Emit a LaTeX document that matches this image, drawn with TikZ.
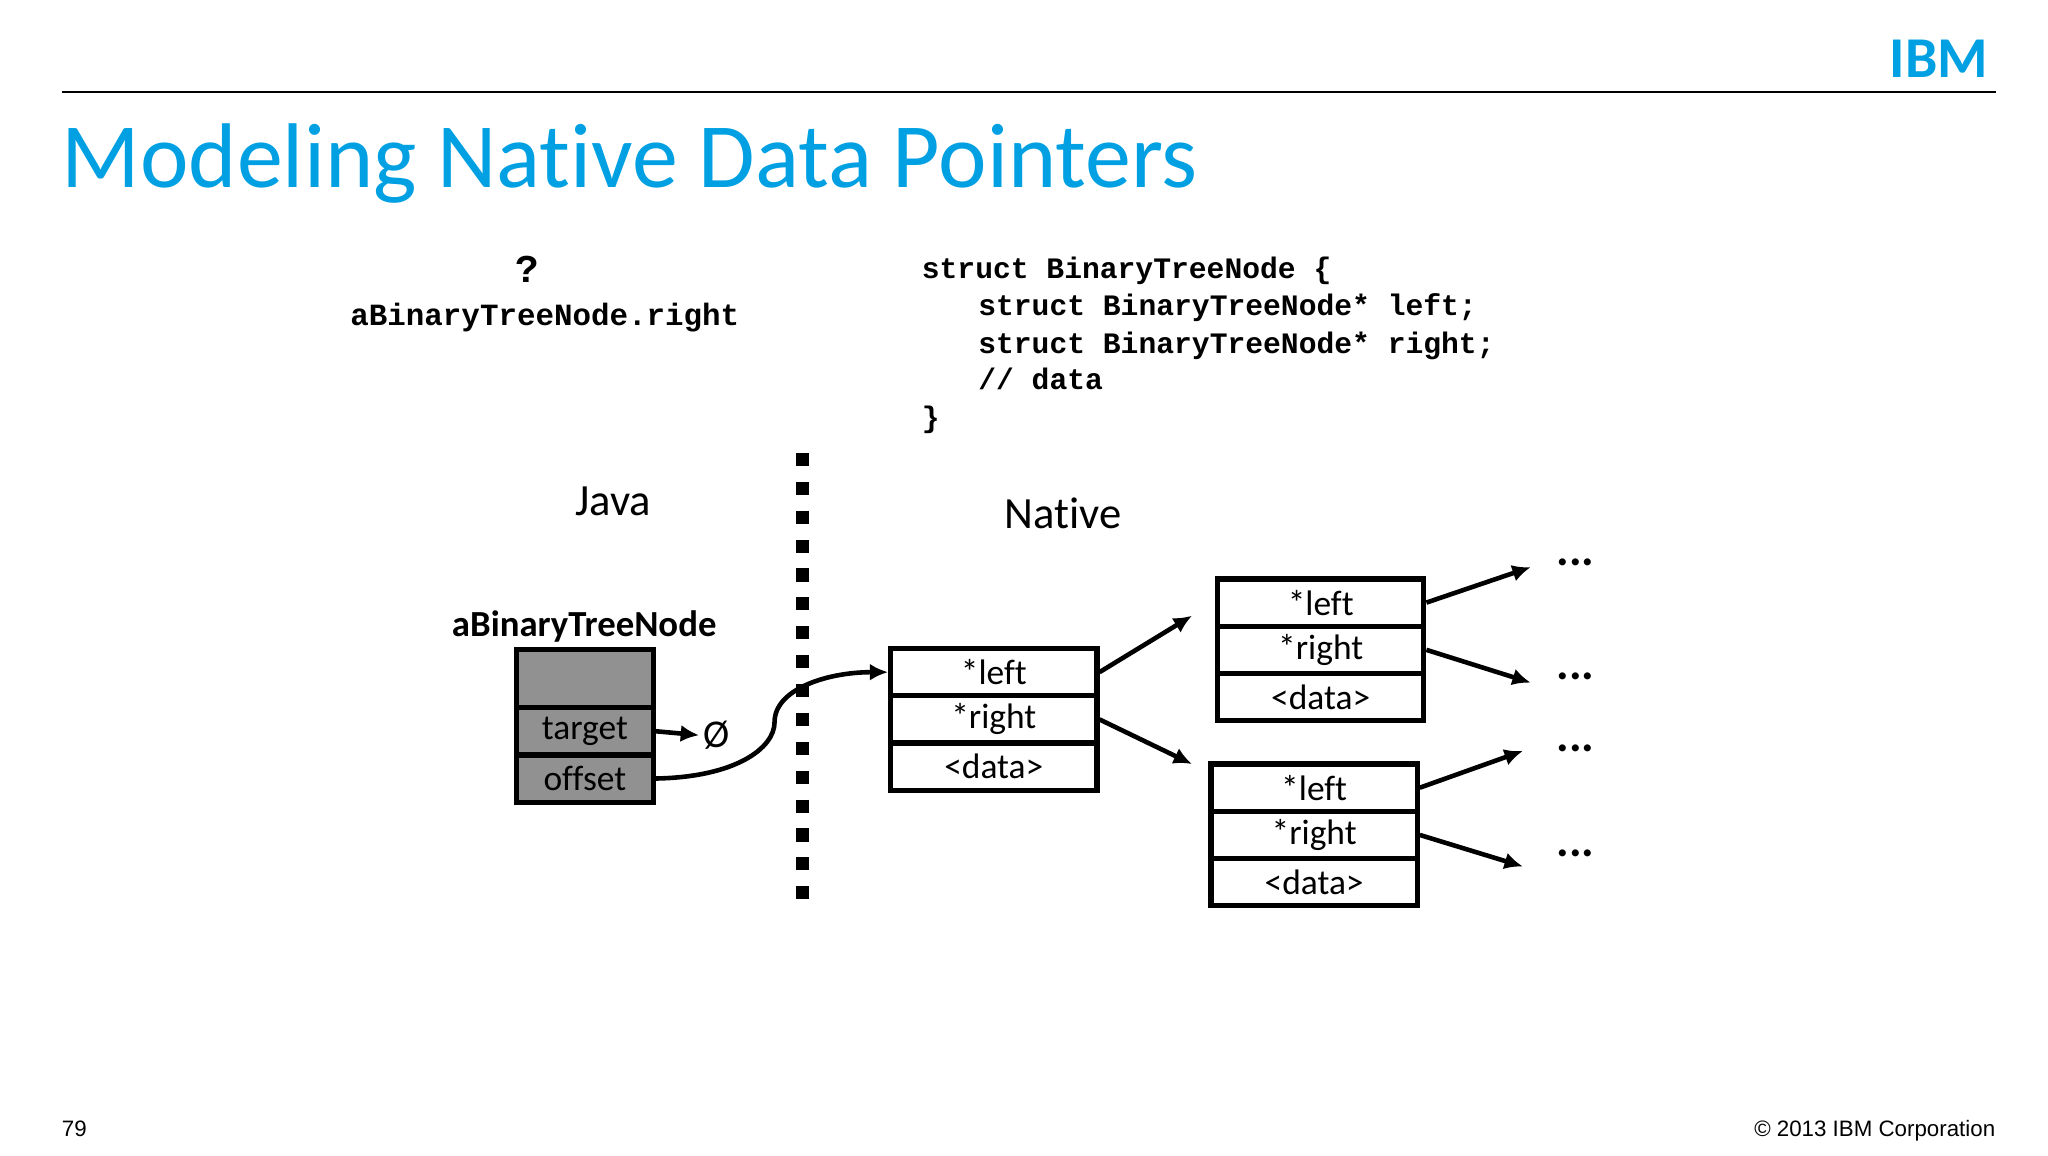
\documentclass[tikz,border=0pt]{standalone}
\usepackage{fontspec}
\setmainfont{Carlito}[Ligatures=NoCommon]
\newfontfamily\codefont{Liberation Mono}
\newfontfamily\footfont{Liberation Sans}
\usetikzlibrary{arrows.meta,positioning,calc}
\definecolor{ibmblue}{RGB}{0,160,226}

\begin{document}
\begin{tikzpicture}[
    x=1pt, y=-1pt,
    cell/.style={rectangle, draw, line width=4pt, minimum width=157pt, minimum height=36pt, inner sep=0pt, font=\fontsize{27}{27}\selectfont},
    jcell/.style={cell, fill=gray!85!black!75, minimum width=104pt},
    ptr/.style={draw, line width=3.5pt, -{Latex[length=14pt,width=13pt]}},
    code/.style={anchor=base west, inner sep=0pt, font=\codefont\bfseries\fontsize{22.6}{22.6}\selectfont},
    dots/.style={font=\bfseries\fontsize{36}{36}\selectfont}
]
\useasboundingbox (0,0) rectangle (1560,880);

% header
\node[anchor=east, text=ibmblue, font=\bfseries\fontsize{44}{44}\selectfont] (logo) at (1518,45) {IBM};
\draw[line width=1.5pt] (47,70) -- (1520,70);
\node[anchor=base west, inner sep=0pt, text=ibmblue, font=\fontsize{70}{70}\selectfont] (title) at (47,143) {Modeling Native Data Pointers};

% question and struct
\node[font=\codefont\bfseries\fontsize{30}{30}\selectfont] (q) at (402,205) {?};
\node[anchor=base, inner sep=0pt, font=\codefont\bfseries\fontsize{23.5}{23.5}\selectfont] (expr) at (415,248) {aBinaryTreeNode.right};
\node[code] (s1) at (702,212) {struct BinaryTreeNode \{};
\node[code] (s2) at (745,240) {struct BinaryTreeNode* left;};
\node[code] (s3) at (745,269) {struct BinaryTreeNode* right;};
\node[code] (s4) at (745,297) {// data};
\node[code] (s5) at (702,326) {\}};

% Java / Native split
\draw[line width=10pt, dash pattern=on 10pt off 12pt] (611,345) -- (611,690);
\node[font=\fontsize{34}{34}\selectfont] (java) at (467,382) {Java};
\node[font=\fontsize{34}{34}\selectfont] (native) at (810,391) {Native};

% Java object
\node[font=\bfseries\fontsize{28}{28}\selectfont] (jname) at (445,477) {aBinaryTreeNode};
\node[jcell, minimum height=44pt] (jtop) at (445.5,517) {};
\node[jcell, below=-4pt of jtop] (target) {target};
\node[jcell, below=-4pt of target] (offset) {offset};
\node[font=\fontsize{30}{30}\selectfont] (null) at (546,560) {\O};

% native nodes
\node[cell] (aleft) at (757,512) {*left};
\node[cell, below=-4pt of aleft] (aright) {*right};
\node[cell, below=-4pt of aright] (adata) {<data>};

\node[cell] (bleft) at (1006,459) {*left};
\node[cell, below=-4pt of bleft] (bright) {*right};
\node[cell, below=-4pt of bright] (bdata) {<data>};

\node[cell] (cleft) at (1001,600) {*left};
\node[cell, below=-4pt of cleft] (cright) {*right};
\node[cell, below=-4pt of cright] (cdata) {<data>};

\node[dots] (d1) at (1200,428) {...};
\node[dots] (d2) at (1200,515) {...};
\node[dots] (d3) at (1200,570) {...};
\node[dots] (d4) at (1200,650) {...};

% pointers
\path[ptr] (target.east) -- (null.west);
\path[ptr] (offset.east) .. controls (560,592) and (590,570) .. (590,550) .. controls (590,525) and (630,512) .. (aleft.west);
\path[ptr] (aleft.east) -- (908,469);
\path[ptr] (aright.east) -- (908,582);
\path[ptr] (bleft.east) -- (1166,432);
\path[ptr] (bright.east) -- (1166,520);
\path[ptr] (cleft.east) -- (1160,572);
\path[ptr] (cright.east) -- (1160,660);

% footer
\node[anchor=base west, inner sep=0pt, font=\footfont\fontsize{17}{17}\selectfont] (page) at (47,866) {79};
\node[anchor=base east, inner sep=0pt, font=\footfont\fontsize{17}{17}\selectfont] (copy) at (1520,866) {\textcopyright{} 2013 IBM Corporation};
\end{tikzpicture}
\end{document}
